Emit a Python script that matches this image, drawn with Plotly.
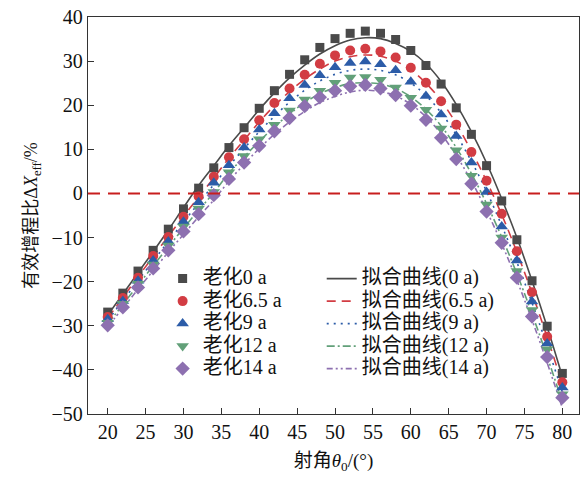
import plotly.graph_objects as go

# Shooting angle (deg)
angle = [20, 22, 24, 26, 28, 30, 32, 34, 36, 38, 40, 42, 44, 46, 48, 50,
         52, 54, 56, 58, 60, 62, 64, 66, 68, 70, 72, 74, 76, 78, 80]

# Measured effective range-extension ratio (%) per ageing time
meas_0a = [-26.9, -22.6, -17.6, -12.9, -8.1, -3.5, 1.2, 5.8, 10.4, 14.9, 19.3, 23.3,
           27.0, 30.3, 33.1, 35.1, 36.3, 36.8, 36.3, 34.9, 32.4, 29.0, 24.8, 19.4,
           13.4, 6.3, -1.7, -10.5, -19.8, -30.1, -40.8]
meas_6_5a = [-28.0, -23.7, -19.1, -14.2, -9.9, -5.3, -0.7, 3.8, 8.2, 12.3, 16.6, 20.5,
             23.8, 26.9, 29.4, 31.3, 32.4, 32.8, 32.2, 30.8, 28.5, 25.1, 20.9, 15.6,
             9.4, 2.9, -4.6, -13.1, -22.4, -32.5, -42.8]
meas_9a = [-28.5, -24.4, -19.8, -15.2, -10.9, -6.4, -2.0, 2.4, 6.4, 10.4, 14.5, 18.2,
           21.6, 24.6, 26.8, 28.6, 29.6, 29.9, 29.3, 27.9, 25.3, 22.1, 17.9, 13.0,
           7.0, 0.3, -7.5, -15.2, -24.5, -34.0, -44.0]
meas_12a = [-29.3, -25.0, -20.5, -16.1, -11.8, -7.5, -3.4, 0.3, 4.8, 8.5, 12.3, 15.6,
            18.8, 21.3, 23.3, 25.1, 26.3, 26.4, 25.8, 24.0, 21.7, 19.0, 14.7, 9.8,
            4.0, -2.5, -10.0, -17.6, -26.4, -35.3, -45.5]
meas_14a = [-29.9, -25.8, -21.3, -17.0, -12.9, -8.6, -4.7, -0.4, 3.3, 7.0, 10.8, 14.1,
            17.1, 19.8, 21.8, 23.3, 24.3, 24.6, 23.8, 22.3, 19.9, 16.7, 12.6, 7.8,
            2.2, -4.1, -11.2, -19.1, -27.9, -37.1, -46.3]

# Fitted curves (%) at the same angles
fit_0a = [-27.6, -22.8, -18.0, -13.2, -8.3, -3.2, 1.8, 6.3, 10.8, 14.9, 19.0, 22.8,
          26.2, 29.1, 31.6, 33.5, 34.8, 35.3, 35.1, 34.0, 32.2, 29.4, 25.4, 20.2,
          14.0, 6.9, -1.2, -10.0, -19.8, -30.3, -41.5]
fit_6_5a = [-28.3, -23.6, -18.9, -14.3, -9.7, -5.2, -0.8, 3.5, 8.0, 12.1, 16.2, 19.9,
            23.1, 25.9, 28.2, 30.0, 31.0, 31.4, 31.1, 30.0, 28.0, 25.0, 21.0, 15.8,
            9.6, 2.8, -4.8, -13.3, -22.6, -32.6, -43.2]
fit_9a = [-28.8, -24.3, -19.8, -15.3, -10.9, -6.5, -2.2, 2.0, 6.2, 10.2, 14.0, 17.5,
          20.7, 23.4, 25.5, 27.0, 27.9, 28.2, 27.9, 26.9, 25.0, 22.2, 18.3, 13.3,
          7.3, 0.5, -7.3, -15.6, -24.8, -34.6, -45.0]
fit_12a = [-29.6, -25.2, -20.8, -16.4, -12.1, -7.9, -3.8, 0.2, 4.6, 8.3, 11.8, 15.1,
           18.0, 20.6, 22.6, 24.0, 24.9, 25.1, 24.8, 23.8, 21.9, 19.1, 15.3, 10.4,
           4.5, -2.3, -9.9, -18.2, -27.3, -37.0, -47.3]
fit_14a = [-30.2, -26.0, -21.7, -17.5, -13.3, -9.3, -5.3, -1.5, 2.8, 6.6, 10.2, 13.4,
           16.2, 18.6, 20.6, 22.0, 23.0, 23.4, 23.1, 22.1, 20.2, 17.4, 13.5, 8.6,
           2.8, -3.9, -11.4, -19.7, -28.7, -38.4, -48.6]

ages = ["0", "6.5", "9", "12", "14"]
measured = [meas_0a, meas_6_5a, meas_9a, meas_12a, meas_14a]
fitted = [fit_0a, fit_6_5a, fit_9a, fit_12a, fit_14a]

x_ticks = [20, 25, 30, 35, 40, 45, 50, 55, 60, 65, 70, 75, 80]
y_ticks = [-50, -40, -30, -20, -10, 0, 10, 20, 30, 40]

colors = ["#4a4a4a", "#d23c43", "#2c5ca8", "#62a079", "#8d70b0"]
symbols = ["square", "circle", "triangle-up", "triangle-down", "diamond"]
sizes = [9, 10, 11, 11, 11]
dashes = ["solid", "9px,6px", "2px,5px", "8px,3px,2px,3px", "6px,3px,2px,3px,2px,3px"]

FONT = "Liberation Serif, Times New Roman, Noto Sans CJK SC, serif"
LEG_TXT = '<span style="font-size:20px">{}</span>'

fig = go.Figure()

# fitted curves (drawn underneath the markers)
for age, ys, c, d in zip(ages, fitted, colors, dashes):
    fig.add_trace(go.Scatter(
        x=angle, y=ys, mode="lines", line=dict(color=c, width=1.6, dash=d, shape="spline"),
        name=LEG_TXT.format(f"拟合曲线({age} a)"), legend="legend2",
    ))

# measured points
for age, ys, c, s, sz in zip(ages, measured, colors, symbols, sizes):
    fig.add_trace(go.Scatter(
        x=angle, y=ys, mode="markers",
        marker=dict(symbol=s, color=c, size=sz, line=dict(width=0)),
        name=LEG_TXT.format(f"老化{age} a"), legend="legend",
    ))

# zero reference line
fig.add_hline(y=0, line=dict(color="#c81e1e", width=2, dash="12px,8px"))

axis_common = dict(
    showline=True, linecolor="#333333", linewidth=1.3, mirror=True,
    ticks="inside", ticklen=6, tickwidth=1.2, tickcolor="#333333",
    showgrid=False, zeroline=False,
    tickfont=dict(family=FONT, size=20, color="#111111"),
)

fig.update_layout(
    width=586, height=477,
    margin=dict(l=88, r=6, t=12, b=63),
    paper_bgcolor="white", plot_bgcolor="white",
    font=dict(family=FONT, color="#111111"),
    xaxis=dict(
        range=[17.4, 82.2], tickvals=x_ticks, **axis_common,
        title=dict(text="射角<i>θ</i><sub>0</sub>/(°)", font=dict(family=FONT, size=19),
                   standoff=11),
    ),
    yaxis=dict(
        range=[-50, 40], tickvals=y_ticks, **axis_common,
        title=dict(text="有效增程比Δ<i>X</i><sub>eff</sub>/%", font=dict(family=FONT, size=18),
                   standoff=9),
    ),
    legend=dict(
        x=0.152, y=0.382, xanchor="left", yanchor="top",
        bgcolor="rgba(0,0,0,0)", borderwidth=0,
        font=dict(family=FONT, size=15, color="#111111"),
        tracegroupgap=0,
    ),
    legend2=dict(
        x=0.476, y=0.382, xanchor="left", yanchor="top",
        bgcolor="rgba(0,0,0,0)", borderwidth=0,
        font=dict(family=FONT, size=15, color="#111111"),
        tracegroupgap=0,
    ),
    showlegend=True,
)

fig.write_html("out.html")
